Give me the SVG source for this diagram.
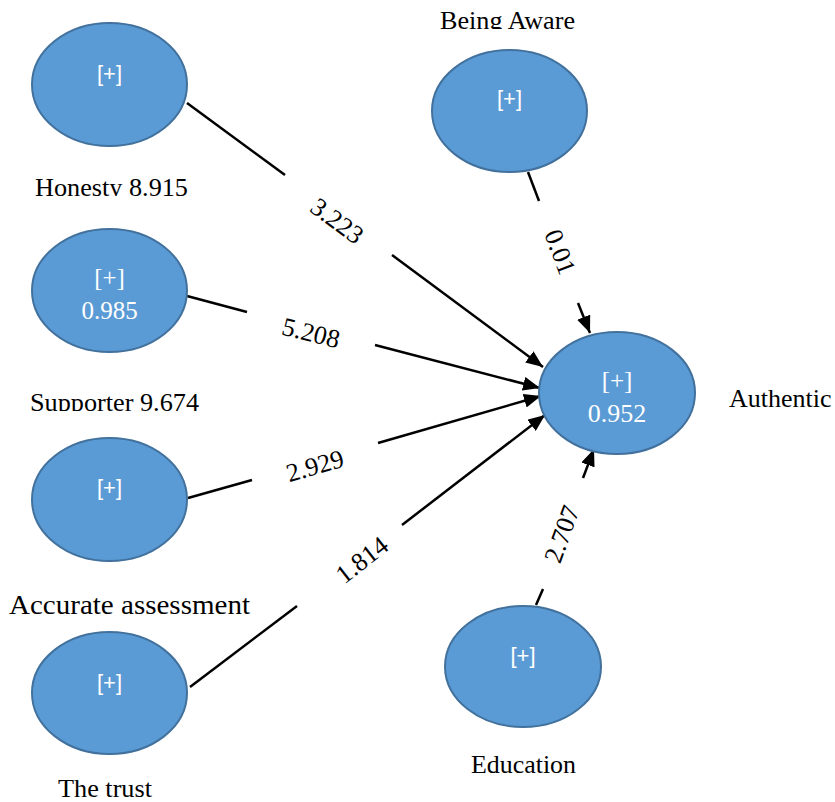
<svg xmlns="http://www.w3.org/2000/svg" width="835" height="802" viewBox="0 0 835 802">
  <style>
    .node { fill: #5B9BD5; stroke: #41719C; stroke-width: 2; }
    .in-sans { font-family: "Liberation Sans", "Open Sans", sans-serif; font-size: 22px; fill: #ffffff; text-anchor: middle; dominant-baseline: central; }
    .in-serif { font-family: "Liberation Serif", "Times New Roman", serif; font-size: 25px; fill: #ffffff; text-anchor: middle; dominant-baseline: central; }
    .label { font-family: "Liberation Serif", "Times New Roman", serif; font-size: 26px; fill: #000000; }
    .edge { stroke: #000000; stroke-width: 2.5; fill: none; }
    .weight { font-family: "Liberation Serif", "Times New Roman", serif; font-size: 26px; fill: #000000; text-anchor: middle; dominant-baseline: central; }
  </style>
  <defs>
    <marker id="arrow" markerUnits="userSpaceOnUse" markerWidth="18" markerHeight="14" refX="17" refY="7" orient="auto">
      <path d="M0,0 L17,7 L0,14 z" fill="#000000"/>
    </marker>
    <clipPath id="clip-honesty"><rect x="0" y="150" width="300" height="46"/></clipPath>
    <clipPath id="clip-aware"><rect x="400" y="0" width="250" height="29"/></clipPath>
    <clipPath id="clip-supporter"><rect x="0" y="370" width="300" height="41"/></clipPath>
    <clipPath id="clip-accurate"><rect x="0" y="580" width="300" height="34"/></clipPath>
    <clipPath id="clip-trust"><rect x="0" y="760" width="300" height="38"/></clipPath>
    <clipPath id="clip-education"><rect x="400" y="740" width="250" height="33"/></clipPath>
  </defs>

  <rect width="835" height="802" fill="#ffffff"/>

  <!-- paths into Authentic, each broken where its weight is printed -->
  <g id="connectors">
    <line class="edge" x1="187" y1="103" x2="285" y2="175"/>
    <line class="edge" x1="392" y1="255" x2="543" y2="367" marker-end="url(#arrow)"/>
    <text class="weight" transform="translate(337,221) rotate(36.5)">3.223</text>

    <line class="edge" x1="187" y1="296" x2="247" y2="312"/>
    <line class="edge" x1="375" y1="345" x2="540" y2="388" marker-end="url(#arrow)"/>
    <text class="weight" transform="translate(311,333) rotate(14)">5.208</text>

    <line class="edge" x1="188" y1="498" x2="252" y2="480"/>
    <line class="edge" x1="378" y1="443" x2="541" y2="396" marker-end="url(#arrow)"/>
    <text class="weight" transform="translate(315,466) rotate(-16)">2.929</text>

    <line class="edge" x1="190" y1="687" x2="297" y2="606"/>
    <line class="edge" x1="402" y1="525" x2="545" y2="415" marker-end="url(#arrow)"/>
    <text class="weight" transform="translate(362,560) rotate(-38)">1.814</text>

    <line class="edge" x1="528" y1="172" x2="539" y2="201"/>
    <line class="edge" x1="578" y1="303" x2="590" y2="333" marker-end="url(#arrow)"/>
    <text class="weight" transform="translate(560,252) rotate(69)">0.01</text>

    <line class="edge" x1="536" y1="605" x2="543" y2="589"/>
    <line class="edge" x1="583" y1="478" x2="594" y2="449" marker-end="url(#arrow)"/>
    <text class="weight" transform="translate(562,534) rotate(-70)">2.707</text>
  </g>

  <g id="honesty">
    <ellipse class="node" cx="109.5" cy="84.5" rx="77.5" ry="61.5"/>
    <text class="in-sans" x="109.5" y="73">[+]</text>
    <text class="label" x="35" y="196" textLength="153" lengthAdjust="spacingAndGlyphs" clip-path="url(#clip-honesty)">Honesty 8.915</text>
  </g>

  <g id="supporter">
    <ellipse class="node" cx="109.5" cy="290.5" rx="77.5" ry="61.5"/>
    <text class="in-serif" x="109.5" y="277">[+]</text>
    <text class="in-serif" x="109.5" y="310">0.985</text>
    <text class="label" x="30" y="411" textLength="169" lengthAdjust="spacingAndGlyphs" clip-path="url(#clip-supporter)">Supporter 9.674</text>
  </g>

  <g id="accurate-assessment">
    <ellipse class="node" cx="109.5" cy="499.5" rx="77.5" ry="61.5"/>
    <text class="in-sans" x="109.5" y="487">[+]</text>
    <text class="label" x="9" y="614" textLength="241" lengthAdjust="spacingAndGlyphs" style="font-size:27px" clip-path="url(#clip-accurate)">Accurate assessment</text>
  </g>

  <g id="the-trust">
    <ellipse class="node" cx="109.5" cy="693" rx="77.5" ry="61"/>
    <text class="in-sans" x="109.5" y="682">[+]</text>
    <text class="label" x="58" y="797" textLength="94" lengthAdjust="spacingAndGlyphs" clip-path="url(#clip-trust)">The trust</text>
  </g>

  <g id="being-aware">
    <ellipse class="node" cx="509.5" cy="111" rx="77.5" ry="61"/>
    <text class="in-sans" x="509.5" y="98">[+]</text>
    <text class="label" x="440" y="29" textLength="135" lengthAdjust="spacingAndGlyphs" clip-path="url(#clip-aware)">Being Aware</text>
  </g>

  <g id="authentic">
    <ellipse class="node" cx="617" cy="393" rx="78" ry="61"/>
    <text class="in-serif" x="617" y="380">[+]</text>
    <text class="in-serif" x="617" y="413" style="font-size:26px">0.952</text>
    <text class="label" x="729" y="407">Authentic</text>
  </g>

  <g id="education">
    <ellipse class="node" cx="523" cy="666.5" rx="78" ry="60.5"/>
    <text class="in-sans" x="523" y="655">[+]</text>
    <text class="label" x="471" y="773" textLength="105" lengthAdjust="spacingAndGlyphs" clip-path="url(#clip-education)">Education</text>
  </g>
</svg>
